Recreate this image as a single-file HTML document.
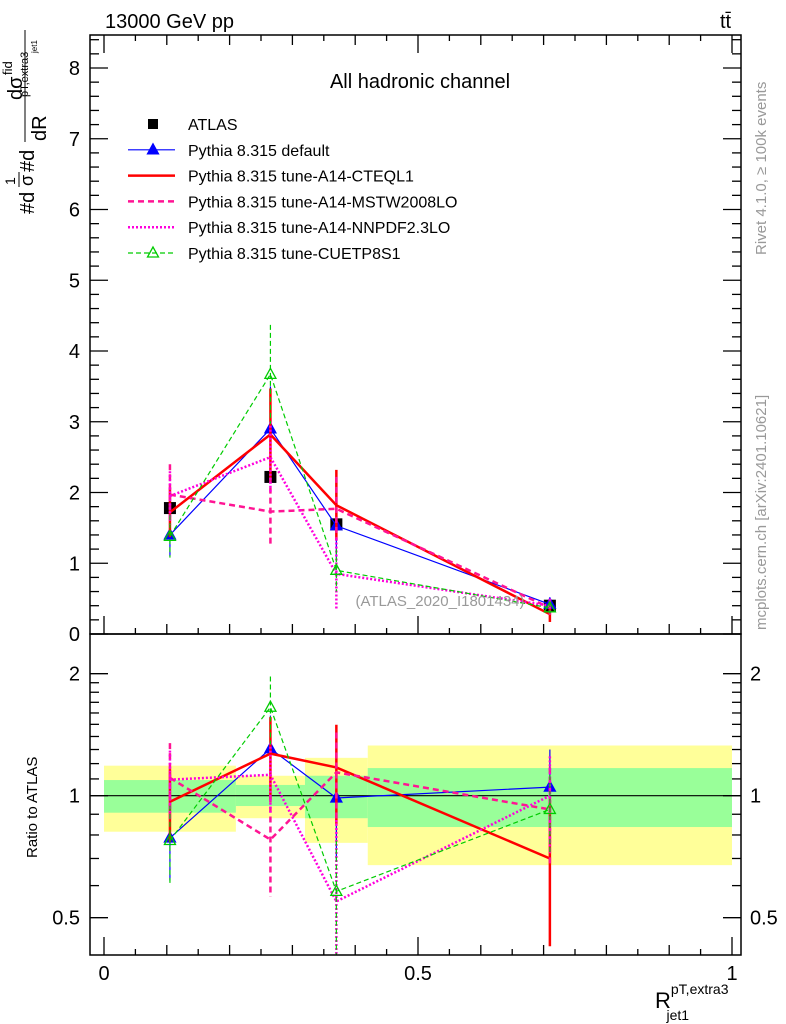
<!DOCTYPE html>
<html><head><meta charset="utf-8"><style>
body{margin:0;background:#fff}
svg{display:block;font-family:"Liberation Sans",sans-serif}
</style></head><body>
<svg id="chart" width="786" height="1024" viewBox="0 0 786 1024" xmlns="http://www.w3.org/2000/svg">
<g id="bands"></g>
<g id="series"></g>
<g id="axes"></g>
<text x="105" y="28" font-size="20">13000 GeV pp</text>
<text x="720" y="28" font-size="20">tt̄</text>
<text x="420" y="88" font-size="20" text-anchor="middle">All hadronic channel</text>
<text x="440" y="606" font-size="15" fill="#999" text-anchor="middle">(ATLAS_2020_I1801434)</text>
<text transform="translate(766,255) rotate(-90)" font-size="15" fill="#999">Rivet 4.1.0, ≥ 100k events</text>
<text transform="translate(766,630) rotate(-90)" font-size="15" fill="#999">mcplots.cern.ch [arXiv:2401.10621]</text>
<g>
<text transform="translate(34,214) rotate(-90)" font-size="20">#d</text>
<text transform="translate(15,185) rotate(-90)" font-size="14">1</text>
<line x1="19" y1="187" x2="19" y2="172" stroke="#000" stroke-width="1"/>
<text transform="translate(33,186) rotate(-90)" font-size="18">σ</text>
<text transform="translate(34,172) rotate(-90)" font-size="20">#d</text>
<line x1="25" y1="142" x2="25" y2="30" stroke="#000" stroke-width="1"/>
<text transform="translate(22,100) rotate(-90)" font-size="20">dσ</text>
<text transform="translate(12,75) rotate(-90)" font-size="13">fid</text>
<text transform="translate(28,97) rotate(-90)" font-size="11">pT,extra3</text>
<text transform="translate(46,141) rotate(-90)" font-size="20">dR</text>
<text transform="translate(37,53) rotate(-90)" font-size="8">jet1</text>
</g>
<text transform="translate(37,858) rotate(-90)" font-size="15">Ratio to ATLAS</text>
<text x="655" y="1008" font-size="22">R<tspan font-size="14" dy="-14">pT,extra3</tspan><tspan font-size="14" dx="-62" dy="26">jet1</tspan></text>
<g id="legend"></g>
</svg>
<script>
const xCenters=[0.105,0.265,0.37,0.71];
const binEdges=[0,0.21,0.32,0.42,1.0];
const atlas=[1.78,2.22,1.55,0.40];
const atlasErr=[0.05,0.07,0.05,0.02];
const sDefault=[1.4,2.9,1.53,0.42];
const eDefault=[0.3,0.6,0.45,0.1];
const sCTEQ=[1.72,2.82,1.82,0.28];
const eCTEQ=[0.35,0.65,0.5,0.11];
const sMSTW=[1.97,1.73,1.77,0.37];
const eMSTW=[0.43,0.48,0.45,0.1];
const sNNPDF=[1.95,2.5,0.85,0.40];
const eNNPDF=[0.35,0.5,0.5,0.1];
const sCUET=[1.38,3.67,0.9,0.37];
const eCUET=[0.3,0.7,0.3,0.08];
const yellowHi=[1.186,1.12,1.24,1.33];
const yellowLo=[0.815,0.88,0.765,0.674];
const greenHi=[1.093,1.063,1.12,1.17];
const greenLo=[0.908,0.943,0.88,0.837];
const yTicks=[0,1,2,3,4,5,6,7,8];
const rTicks=[0.5,1,2];
const xTickLabels=["0","0.5","1"];

const NS="http://www.w3.org/2000/svg";
const L=90,R=741,T=35,MID=634,B=955;
const X=v=>104+v*628;
const Y=v=>634-v*70.75;
const YR=v=>795.7-122*Math.log2(v);
function mk(tag,attrs,parent){const e=document.createElementNS(NS,tag);for(const k in attrs)e.setAttribute(k,attrs[k]);parent.appendChild(e);return e;}
const gB=document.getElementById('bands'),gS=document.getElementById('series'),gA=document.getElementById('axes'),gL=document.getElementById('legend');

for(let i=0;i<4;i++){
 const x0=X(binEdges[i]),x1=X(binEdges[i+1]);
 let r=mk('rect',{x:x0,y:YR(yellowHi[i]),width:x1-x0,height:YR(yellowLo[i])-YR(yellowHi[i]),fill:'#ffff99'},gB);
 
 
}
for(let i=0;i<4;i++){
 const x0=X(binEdges[i]),x1=X(binEdges[i+1]);
 let r=mk('rect',{x:x0,y:YR(greenHi[i]),width:x1-x0,height:YR(greenLo[i])-YR(greenHi[i]),fill:'#99ff99'},gB);
 
 
}
let one=mk('line',{x1:L,x2:R,y1:YR(1),y2:YR(1),stroke:'#000','stroke-width':1.2},gB);



// atlas points (behind MC)
atlas.forEach((v,i)=>{
 const r=mk('rect',{x:X(xCenters[i])-6,y:Y(v)-6,width:12,height:12,fill:'#000'},gS);
 
 
});

const series=[
 {name:'default',v:sDefault,e:eDefault,c:'#0000ff',w:1.2,d:'',m:'tri'},
 {name:'cteql1',v:sCTEQ,e:eCTEQ,c:'#ff0000',w:2.5,d:'',m:''},
 {name:'mstw2008lo',v:sMSTW,e:eMSTW,c:'#ff1493',w:2.5,d:'6,4',m:''},
 {name:'nnpdf23lo',v:sNNPDF,e:eNNPDF,c:'#ff00dd',w:2.5,d:'2,2',m:''},
 {name:'cuetp8s1',v:sCUET,e:eCUET,c:'#00cc00',w:1.2,d:'5,3',m:'otri'}
];
function tri(g,x,y,c,open){return mk('polygon',{points:`${x},${y-6} ${x-5.5},${y+4} ${x+5.5},${y+4}`,fill:open?'none':c,stroke:c,'stroke-width':1.3},g);}
function draw(panel,fy,vals,errs){
 series.forEach(s=>{
  const g=mk('g',{},gS);
  
  
  const pts=s.v.map((v,i)=>[X(xCenters[i]),fy(vals(s,i))]);
  mk('polyline',{points:pts.map(p=>p.join(',')).join(' '),fill:'none',stroke:s.c,'stroke-width':s.w,'stroke-dasharray':s.d},g);
  s.v.forEach((v,i)=>{
   const c=vals(s,i),e=errs(s,i);
   const x=X(xCenters[i]);
   const lo=Math.max(c-e,0.01);
   const eb=mk('line',{x1:x,x2:x,y1:fy(c+e),y2:Math.min(fy(lo),panel==='ratio'?B:MID),stroke:s.c,'stroke-width':s.w>2?2.5:1.2,'stroke-dasharray':s.d},g);
   
   
   if(s.m){const t=tri(g,x,fy(c),s.c,s.m==='otri');
    
    }
  });
 });
}
draw('main',Y,(s,i)=>s.v[i],(s,i)=>s.e[i]);
draw('ratio',YR,(s,i)=>s.v[i]/atlas[i],(s,i)=>s.e[i]/atlas[i]);

[[T,MID],[MID,B]].forEach(([a,b],k)=>{
 const f=mk('rect',{x:L,y:a,width:R-L,height:b-a,fill:'none',stroke:'#000','stroke-width':1.5},gA);
 
 
});
for(let k=0;k<=20;k++){
 const v=k*0.05,x=X(v),len=(k%10===0)?18:(k%2===0?10:6);
 [MID,B].forEach(yb=>{mk('line',{x1:x,x2:x,y1:yb,y2:yb-len,stroke:'#000','stroke-width':1.3},gA);});
 mk('line',{x1:x,x2:x,y1:T,y2:T+len,stroke:'#000','stroke-width':1.3},gA);
}
xTickLabels.forEach((t,i)=>{const tx=mk('text',{x:X(i*0.5),y:980,'font-size':20,'text-anchor':'middle'},gA);tx.textContent=t;
 
 });
for(let k=0;k<=42;k++){const v=k*0.2,y=Y(v);if(y<T)break;const len=(k%5===0)?18:9;
 mk('line',{x1:L,x2:L+len,y1:y,y2:y,stroke:'#000','stroke-width':1.3},gA);
 mk('line',{x1:R,x2:R-len,y1:y,y2:y,stroke:'#000','stroke-width':1.3},gA);}
yTicks.forEach(v=>{const tx=mk('text',{x:80,y:Y(v)+7,'font-size':20,'text-anchor':'end'},gA);tx.textContent=v;
 
 });
const rMinor=[0.5,0.6,0.7,0.8,0.9,1,1.1,1.2,1.3,1.4,1.5,1.6,1.7,1.8,1.9,2];
rMinor.forEach(v=>{const y=YR(v);const len=rTicks.includes(v)?18:9;
 mk('line',{x1:L,x2:L+len,y1:y,y2:y,stroke:'#000','stroke-width':1.3},gA);
 mk('line',{x1:R,x2:R-len,y1:y,y2:y,stroke:'#000','stroke-width':1.3},gA);});
rTicks.forEach(v=>{[[80,'end'],[750,'start']].forEach(([x,a])=>{const tx=mk('text',{x:x,y:YR(v)+7,'font-size':20,'text-anchor':a},gA);tx.textContent=v;
 
 });});

const legendRows=[['ATLAS',null],['Pythia 8.315 default',series[0]],['Pythia 8.315 tune-A14-CTEQL1',series[1]],['Pythia 8.315 tune-A14-MSTW2008LO',series[2]],['Pythia 8.315 tune-A14-NNPDF2.3LO',series[3]],['Pythia 8.315 tune-CUETP8S1',series[4]]];
legendRows.forEach((r,i)=>{
 const y=124+i*25.8;
 const g=mk('g',{},gL);
 
 
 const s=r[1];
 if(!s){mk('rect',{x:148,y:y-5,width:10,height:10,fill:'#000'},g);}
 else{mk('line',{x1:128,x2:175,y1:y,y2:y,stroke:s.c,'stroke-width':s.w>2?2.5:1.2,'stroke-dasharray':s.d},g);
  if(s.m)tri(g,153,y,s.c,s.m==='otri');}
 const t=mk('text',{x:188,y:y+6,'font-size':16},g);t.textContent=r[0];
});
</script>
</body></html>
